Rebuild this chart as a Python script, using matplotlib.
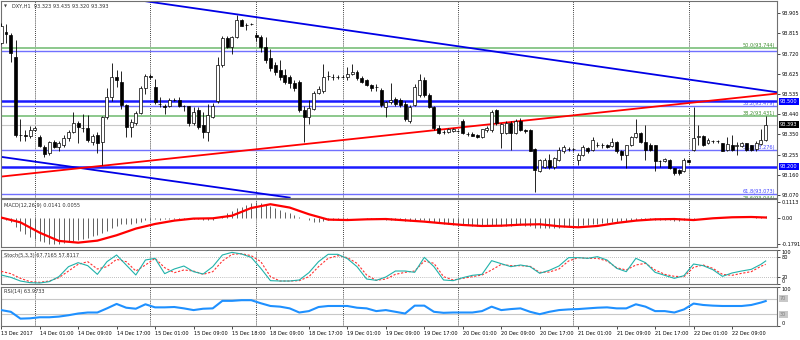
import matplotlib
matplotlib.use('Agg')
import matplotlib.pyplot as plt
import numpy as np

plt.rcParams['font.family'] = ['DejaVu Sans']

# ---------------- data ----------------
opens = [93.770, 93.818, 93.805, 93.706, 93.348, 93.345, 93.340, 93.370, 93.335, 93.292,
         93.262, 93.315, 93.292, 93.300, 93.330, 93.361, 93.402, 93.380, 93.376, 93.315,
         93.345, 93.315, 93.430, 93.522, 93.610, 93.590, 93.483, 93.384, 93.400, 93.445,
         93.560, 93.617, 93.565, 93.490, 93.478, 93.479, 93.505, 93.506, 93.480, 93.479,
         93.402, 93.460, 93.390, 93.361, 93.430, 93.500, 93.667, 93.790, 93.751, 93.797,
         93.874, 93.850, 93.855, 93.806, 93.797, 93.751, 93.700, 93.667, 93.644, 93.621,
         93.613, 93.583, 93.590, 93.460, 93.430, 93.464, 93.540, 93.550, 93.617, 93.613,
         93.613, 93.613, 93.613, 93.625, 93.637, 93.607, 93.598, 93.575, 93.566, 93.552,
         93.476, 93.499, 93.510, 93.505, 93.490, 93.410, 93.484, 93.530, 93.600, 93.530,
         93.476, 93.378, 93.360, 93.360, 93.365, 93.364, 93.410, 93.350, 93.352, 93.348,
         93.337, 93.367, 93.368, 93.460, 93.355, 93.355, 93.400, 93.355, 93.410, 93.370,
         93.369, 93.280, 93.180, 93.200, 93.231, 93.200, 93.231, 93.270, 93.280, 93.280,
         93.231, 93.254, 93.285, 93.277, 93.300, 93.300, 93.300, 93.297, 93.315, 93.270,
         93.254, 93.300, 93.338, 93.354, 93.315, 93.300, 93.300, 93.224, 93.224, 93.231,
         93.193, 93.185, 93.180, 93.229, 93.275, 93.338, 93.340, 93.310, 93.318, 93.318,
         93.308, 93.277, 93.300, 93.296, 93.294, 93.308, 93.300, 93.280, 93.305, 93.323]
highs = [93.860, 93.857, 93.813, 93.782, 93.420, 93.370, 93.385, 93.385, 93.345, 93.300,
         93.320, 93.325, 93.320, 93.345, 93.370, 93.453, 93.410, 93.440, 93.438, 93.350,
         93.360, 93.435, 93.560, 93.675, 93.645, 93.640, 93.490, 93.420, 93.455, 93.570,
         93.627, 93.625, 93.605, 93.520, 93.490, 93.515, 93.515, 93.520, 93.485, 93.480,
         93.475, 93.475, 93.450, 93.490, 93.495, 93.705, 93.800, 93.800, 93.800, 93.897,
         93.880, 93.860, 93.862, 93.820, 93.805, 93.797, 93.740, 93.680, 93.690, 93.650,
         93.620, 93.600, 93.600, 93.480, 93.506, 93.550, 93.570, 93.674, 93.640, 93.625,
         93.620, 93.620, 93.660, 93.670, 93.645, 93.615, 93.605, 93.580, 93.580, 93.560,
         93.500, 93.586, 93.520, 93.515, 93.500, 93.485, 93.580, 93.624, 93.610, 93.540,
         93.480, 93.390, 93.370, 93.380, 93.380, 93.370, 93.420, 93.360, 93.360, 93.352,
         93.375, 93.385, 93.460, 93.465, 93.400, 93.410, 93.410, 93.420, 93.425, 93.375,
         93.375, 93.285, 93.235, 93.240, 93.260, 93.245, 93.290, 93.300, 93.290, 93.285,
         93.262, 93.300, 93.290, 93.335, 93.315, 93.310, 93.305, 93.330, 93.320, 93.275,
         93.300, 93.340, 93.420, 93.360, 93.390, 93.310, 93.300, 93.231, 93.240, 93.235,
         93.195, 93.190, 93.238, 93.234, 93.476, 93.392, 93.345, 93.330, 93.325, 93.325,
         93.310, 93.338, 93.346, 93.315, 93.315, 93.310, 93.300, 93.320, 93.375, 93.435]
lows = [93.765, 93.770, 93.683, 93.338, 93.320, 93.320, 93.330, 93.365, 93.290, 93.246,
        93.255, 93.285, 93.270, 93.290, 93.320, 93.355, 93.308, 93.360, 93.315, 93.300,
        93.262, 93.208, 93.420, 93.500, 93.565, 93.467, 93.338, 93.338, 93.390, 93.440,
        93.535, 93.603, 93.490, 93.475, 93.440, 93.475, 93.500, 93.475, 93.455, 93.388,
        93.390, 93.375, 93.330, 93.316, 93.425, 93.495, 93.660, 93.745, 93.720, 93.790,
        93.845, 93.830, 93.850, 93.776, 93.727, 93.675, 93.640, 93.620, 93.600, 93.580,
        93.560, 93.550, 93.450, 93.313, 93.397, 93.460, 93.535, 93.540, 93.600, 93.600,
        93.605, 93.608, 93.600, 93.620, 93.600, 93.585, 93.570, 93.550, 93.550, 93.475,
        93.430, 93.490, 93.480, 93.475, 93.410, 93.400, 93.480, 93.520, 93.520, 93.470,
        93.370, 93.350, 93.350, 93.355, 93.360, 93.358, 93.350, 93.340, 93.340, 93.333,
        93.330, 93.360, 93.360, 93.390, 93.286, 93.350, 93.277, 93.350, 93.365, 93.355,
        93.270, 93.085, 93.175, 93.195, 93.190, 93.190, 93.225, 93.265, 93.270, 93.272,
        93.208, 93.250, 93.265, 93.270, 93.290, 93.285, 93.285, 93.290, 93.265, 93.230,
        93.195, 93.295, 93.330, 93.310, 93.231, 93.270, 93.178, 93.200, 93.220, 93.190,
        93.162, 93.160, 93.175, 93.215, 93.270, 93.300, 93.295, 93.305, 93.310, 93.310,
        93.270, 93.270, 93.270, 93.254, 93.290, 93.270, 93.270, 93.270, 93.300, 93.320]
closes = [93.845, 93.809, 93.724, 93.346, 93.344, 93.340, 93.370, 93.378, 93.295, 93.258,
          93.315, 93.292, 93.308, 93.330, 93.361, 93.402, 93.384, 93.376, 93.323, 93.340,
          93.307, 93.430, 93.522, 93.614, 93.600, 93.483, 93.384, 93.407, 93.445, 93.560,
          93.617, 93.610, 93.499, 93.488, 93.476, 93.507, 93.507, 93.479, 93.478, 93.400,
          93.453, 93.384, 93.361, 93.437, 93.479, 93.667, 93.790, 93.751, 93.797, 93.874,
          93.847, 93.851, 93.856, 93.798, 93.751, 93.690, 93.652, 93.636, 93.613, 93.590,
          93.583, 93.560, 93.460, 93.430, 93.468, 93.540, 93.556, 93.610, 93.617, 93.613,
          93.613, 93.613, 93.625, 93.635, 93.607, 93.590, 93.575, 93.560, 93.566, 93.483,
          93.499, 93.506, 93.490, 93.485, 93.420, 93.475, 93.567, 93.600, 93.530, 93.476,
          93.376, 93.355, 93.360, 93.372, 93.372, 93.364, 93.355, 93.350, 93.343, 93.337,
          93.372, 93.380, 93.452, 93.400, 93.394, 93.400, 93.355, 93.410, 93.370, 93.362,
          93.274, 93.185, 93.231, 93.231, 93.200, 93.238, 93.277, 93.292, 93.280, 93.280,
          93.254, 93.289, 93.270, 93.323, 93.300, 93.300, 93.292, 93.315, 93.270, 93.254,
          93.300, 93.338, 93.354, 93.315, 93.277, 93.277, 93.224, 93.224, 93.234, 93.193,
          93.170, 93.170, 93.231, 93.220, 93.334, 93.338, 93.300, 93.323, 93.318, 93.318,
          93.274, 93.303, 93.277, 93.296, 93.308, 93.277, 93.277, 93.308, 93.323, 93.393]

macd_hist = [-0.005, -0.009, -0.023, -0.058, -0.087, -0.110, -0.129, -0.143, -0.154, -0.166,
             -0.175, -0.179, -0.177, -0.172, -0.166, -0.156, -0.149, -0.145, -0.133, -0.124,
             -0.115, -0.103, -0.087, -0.069, -0.051, -0.041, -0.041, -0.037, -0.032, -0.023,
             -0.014, -0.009, -0.007, -0.009, -0.007, -0.005, -0.002, -0.002, -0.002, -0.005,
             -0.005, -0.007, -0.009, -0.012, -0.009, 0.000, 0.018, 0.035, 0.051, 0.069,
             0.081, 0.092, 0.103, 0.110, 0.106, 0.097, 0.087, 0.074, 0.060, 0.046,
             0.035, 0.023, 0.012, 0.000, -0.014, -0.023, -0.023, -0.018, -0.014, -0.009,
             -0.007, -0.005, -0.002, 0.000, 0.000, 0.000, -0.002, -0.005, -0.005, -0.007,
             -0.009, -0.009, -0.009, -0.009, -0.016, -0.016, -0.014, -0.012, -0.014, -0.018,
             -0.028, -0.035, -0.039, -0.041, -0.044, -0.046, -0.046, -0.048, -0.051, -0.053,
             -0.053, -0.053, -0.048, -0.048, -0.051, -0.051, -0.051, -0.048, -0.048, -0.051,
             -0.055, -0.064, -0.069, -0.069, -0.069, -0.067, -0.064, -0.060, -0.058, -0.055,
             -0.053, -0.048, -0.046, -0.041, -0.037, -0.032, -0.030, -0.025, -0.023, -0.021,
             -0.018, -0.014, -0.009, -0.007, -0.007, -0.007, -0.009, -0.012, -0.012, -0.014,
             -0.016, -0.016, -0.014, -0.012, -0.005, 0.000, 0.000, 0.002, 0.002, 0.002,
             0.002, 0.005, 0.005, 0.005, 0.005, 0.005, 0.005, 0.007, 0.009, 0.0141]
macd_signal_bars = [0, 4, 8, 12, 16, 20, 24, 28, 32, 36, 40, 44, 48, 52, 56, 60, 64, 68, 72, 76,
                    80, 84, 88, 92, 96, 100, 104, 108, 112, 116, 120, 124, 128, 132, 136, 140,
                    144, 148, 152, 156, 159]
macd_signal = [0.005, -0.028, -0.099, -0.156, -0.168, -0.154, -0.117, -0.071, -0.039, -0.016,
               -0.002, 0.000, 0.018, 0.071, 0.097, 0.074, 0.028, -0.009, -0.012, -0.007,
               -0.005, -0.014, -0.023, -0.035, -0.046, -0.053, -0.051, -0.044, -0.041, -0.055,
               -0.062, -0.053, -0.032, -0.016, -0.007, -0.005, -0.012, 0.000, 0.007, 0.009, 0.0055]

ind_bars = list(range(0, 160, 2)) + [159]
stoch_main = [26.5, 19.6, 8.8, 3.9, 2.9, 6.9, 21.6, 51.0, 62.7, 53.9,
              28.4, 65.7, 85.3, 55.9, 26.5, 70.6, 75.5, 30.4, 44.1, 52.9,
              36.3, 29.4, 51.0, 85.3, 93.1, 88.2, 78.4, 46.1, 9.8, 8.8,
              8.8, 11.8, 33.3, 65.7, 87.3, 87.3, 74.5, 51.0, 14.7, 10.8,
              20.6, 38.2, 38.2, 34.3, 78.4, 51.0, 11.8, 9.8, 18.6, 25.5,
              28.4, 68.6, 59.8, 51.0, 55.9, 51.0, 31.4, 40.2, 52.9, 77.5,
              77.5, 75.5, 80.4, 70.6, 46.1, 36.3, 75.5, 62.7, 34.3, 25.5,
              16.7, 24.5, 58.8, 53.9, 42.2, 22.5, 32.4, 38.2, 43.1, 57.8, 67.7165]
stoch_signal = [37.3, 30.4, 16.7, 6.9, 4.9, 8.8, 18.6, 38.2, 57.8, 65.7,
                44.1, 51.0, 72.5, 65.7, 38.2, 55.9, 75.5, 48.0, 33.3, 41.2,
                38.2, 28.4, 36.3, 67.6, 87.3, 89.2, 83.3, 65.7, 21.6, 8.8,
                8.8, 9.8, 21.6, 51.0, 75.5, 83.3, 77.5, 60.8, 26.5, 10.8,
                14.7, 28.4, 34.3, 38.2, 67.6, 60.8, 21.6, 11.8, 16.7, 21.6,
                26.5, 41.2, 57.8, 53.9, 53.9, 52.0, 34.3, 35.3, 44.1, 67.6,
                77.5, 75.5, 75.5, 67.6, 48.0, 41.2, 55.9, 60.8, 41.2, 28.4,
                22.5, 21.6, 49.0, 55.9, 46.1, 28.4, 25.5, 31.4, 36.3, 52.0, 57.8117]
rsi = [40.8, 36.4, 18.9, 19.7, 22.4, 22.4, 24.1, 27.6, 32.0, 34.6,
       34.6, 45.2, 56.6, 46.9, 44.3, 55.7, 47.8, 47.8, 48.7, 45.2,
       40.8, 44.3, 45.2, 64.5, 64.5, 66.2, 66.2, 58.3, 51.3, 49.6,
       45.2, 34.6, 38.2, 48.7, 51.3, 51.3, 51.3, 46.9, 45.2, 38.2,
       40.8, 36.4, 32.0, 52.2, 52.2, 36.4, 33.8, 34.6, 34.6, 34.6,
       38.2, 49.6, 40.8, 43.4, 45.2, 36.4, 30.3, 36.4, 40.8, 42.5,
       43.4, 45.2, 46.9, 47.8, 45.2, 45.2, 55.7, 49.6, 38.2, 38.2,
       34.6, 42.5, 57.5, 53.9, 52.2, 51.3, 51.3, 51.3, 53.9, 60.1, 63.9733]

time_label_bars = [0, 8, 16, 24, 32, 40, 48, 56, 64, 72, 80, 88, 96, 104, 112, 120, 128, 136, 144, 152]
time_labels = ['13 Dec 2017', '14 Dec 01:00', '14 Dec 09:00', '14 Dec 17:00', '15 Dec 01:00',
               '15 Dec 09:00', '15 Dec 18:00', '18 Dec 09:00', '18 Dec 17:00', '19 Dec 01:00',
               '19 Dec 09:00', '19 Dec 17:00', '20 Dec 01:00', '20 Dec 09:00', '20 Dec 17:00',
               '21 Dec 01:00', '21 Dec 09:00', '21 Dec 17:00', '22 Dec 01:00', '22 Dec 09:00']
day_separator_bars = [7, 31, 53, 71, 95, 119, 143]

price_ticks = [93.070, 93.160, 93.255, 93.350, 93.440, 93.535, 93.625, 93.720, 93.815, 93.905]
hlines_solid = [93.500, 93.200]
current_price = 93.393
fib_blue = {'23.6': 93.730, '38.2': 93.479, '50.0': 93.276, '61.8': 93.073}
fib_green = {'50.0': 93.744, '38.2': 93.431, '23.6': 93.044}
# trend lines: (bar, price) end points
upper_trend = [(29.9, 93.961), (161.4, 93.542)]
lower_trend = [(-0.25, 93.246), (60.0, 93.058)]
red_trend = [(-0.25, 93.154), (161.3, 93.536)]

# ---------------- layout ----------------
W, H = 800, 340
FS = 3.6
fig = plt.figure(figsize=(8, 3.4), dpi=100)
fig.patch.set_facecolor('white')
XL = (-0.04, 161.35)


def axes_px(x0, y0, x1, y1):
    ax = fig.add_axes([x0 / W, 1 - y1 / H, (x1 - x0) / W, (y1 - y0) / H])
    ax.set_xlim(*XL)
    ax.set_xticks([])
    ax.yaxis.tick_right()
    for s in ax.spines.values():
        s.set_color('#707070')
        s.set_linewidth(0.8)
    ax.tick_params(axis='y', length=2, width=0.5, pad=1.5, labelsize=FS, colors='black')
    for b in day_separator_bars:
        ax.axvline(b, color='black', lw=0.6, ls=(0, (1, 1.5)), zorder=1)
    return ax


def set_edge_ticks(axx, ticks, labels):
    axx.set_yticks(ticks)
    axx.set_yticklabels(labels)
    for t, lbl in zip(ticks, axx.get_yticklabels()):
        if t == 100:
            lbl.set_va('top')
        elif t == 0:
            lbl.set_va('bottom')


# ---------------- price panel ----------------
ax = axes_px(1, 0.5, 777, 198)
ax.set_ylim(93.0562, 93.9638)
ax.set_yticks(price_ticks)
ax.set_yticklabels(['%.3f' % v for v in price_ticks])

for name, v in fib_green.items():
    ax.axhline(v, color='#8cc88c', lw=1.4, zorder=2)
    ax.text(160.9, v, '%s(%.3f)' % (name, v), color='#3c8c2c', fontsize=FS,
            ha='right', va='bottom', zorder=2)
for name, v in fib_blue.items():
    ax.axhline(v, color='#7070ff', lw=1.0, zorder=2)
    if name != '23.6':
        ax.text(160.9, v, '%s(%.3f)' % (name, v), color='#4646ff', fontsize=FS,
                ha='right', va='bottom', zorder=2)
for v in hlines_solid:
    ax.axhline(v, color='#1a1aff', lw=1.8, zorder=2)
ax.axhline(current_price, color='#c8c8c8', lw=0.8, zorder=2)

for pts, col in ((upper_trend, '#0000e6'), (lower_trend, '#0000e6'), (red_trend, '#ff0000')):
    ax.plot([p[0] for p in pts], [p[1] for p in pts], color=col, lw=1.3, zorder=2.5)

o = np.array(opens); h = np.array(highs); l = np.array(lows); c = np.array(closes)
xb = np.arange(len(o))
ax.vlines(xb, l, h, color='black', lw=0.6, zorder=3)
body_lo = np.minimum(o, c)
body_h = np.maximum(np.abs(c - o), 0.0015)
ax.bar(xb, body_h, bottom=body_lo, width=0.62,
       color=['white' if cc >= oo else 'black' for oo, cc in zip(o, c)],
       edgecolor='black', linewidth=0.5, zorder=4)


def box_label(axx, v, text, fc, tc):
    axx.annotate(text, xy=(1.0, v), xycoords=('axes fraction', 'data'),
                 xytext=(2.2, 0), textcoords='offset points', fontsize=FS, color=tc,
                 ha='left', va='center', annotation_clip=False,
                 bbox=dict(boxstyle='square,pad=0.25', fc=fc, ec='none'), zorder=10)


box_label(ax, 93.500, '93.500', '#0000ff', 'white')
box_label(ax, current_price, '93.393', 'black', 'white')
box_label(ax, 93.200, '93.200', '#0000ff', 'white')

fig.text(4 / W, 1 - 6.5 / H, '\u25BC', fontsize=2.8, color='#404040', va='center')
fig.text(11.5 / W, 1 - 6.5 / H, 'DXY,H1  93.323 93.435 93.320 93.393', fontsize=FS,
         color='#303030', va='center')

# ---------------- MACD ----------------
axm = axes_px(1, 199, 777, 246.5)
axm.set_ylim(-0.1945, 0.1331)
axm.set_yticks([0.1113, 0.0, -0.1791])
axm.set_yticklabels(['0.1113', '0.00', '-0.1791'])
axm.vlines(xb, 0, macd_hist, color='#606060', lw=0.7, zorder=3)
axm.plot(macd_signal_bars, macd_signal, color='#ff0000', lw=1.6, zorder=4)
fig.text(4 / W, 1 - 205 / H, 'MACD(12,26,9) 0.0141 0.0055', fontsize=FS, color='#303030', va='center')

# ---------------- Stochastic ----------------
axs = axes_px(1, 250, 777, 284)
axs.set_ylim(0, 100)
set_edge_ticks(axs, [100, 80, 20, 0], ['100', '80', '20', '0'])
for lv in (80, 20):
    axs.axhline(lv, color='#a8a8a8', lw=0.6, ls=(0, (1, 1.5)), zorder=1)
axs.plot(ind_bars, stoch_main, color='#20b2aa', lw=0.8, zorder=4)
axs.plot(ind_bars, stoch_signal, color='#ff3030', lw=0.8, ls=(0, (2, 1.5)), zorder=3)
fig.text(4 / W, 1 - 256 / H, 'Stoch(5,3,3) 67.7165 57.8117', fontsize=FS, color='#303030', va='center')

# ---------------- RSI ----------------
axr = axes_px(1, 287, 777, 326)
axr.set_ylim(0, 100)
set_edge_ticks(axr, [100, 0], ['100', '0'])
for lv in (70, 30):
    axr.axhline(lv, color='#c8c8c8', lw=0.8, zorder=1)
    box_label(axr, lv, str(lv), '#c8c8c8', '#808080')
axr.plot(ind_bars, rsi, color='#1e90ff', lw=1.5, zorder=4)
fig.text(4 / W, 1 - 292 / H, 'RSI(14) 63.9733', fontsize=FS, color='#303030', va='center')

axr.set_xticks(time_label_bars)
axr.set_xticklabels(time_labels, ha='left')
axr.tick_params(axis='x', length=2, width=0.5, pad=1.5, labelsize=FS, colors='black')

fig.savefig('out.png', dpi=100, facecolor='white')
